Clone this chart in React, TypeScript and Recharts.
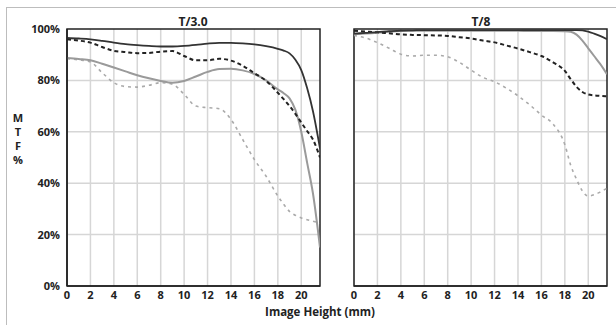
import { LineChart, Line, XAxis, YAxis, CartesianGrid, ReferenceArea } from 'recharts';

const xs = [0, 1, 2, 3, 4, 5, 6, 7, 8, 9, 10, 11, 12, 13, 14, 15, 16, 17, 18, 18.5, 19, 19.5, 20, 20.5, 21, 21.6];
const xTicks = [0, 2, 4, 6, 8, 10, 12, 14, 16, 18, 20];
const yTicks = [0, 20, 40, 60, 80, 100];

// T/3.0
const t3DarkSolid = [96.5, 96.3, 96, 95.4, 94.7, 94.1, 93.7, 93.4, 93.2, 93.2, 93.4, 93.8, 94.3, 94.6, 94.6, 94.4, 94, 93.3, 92.3, 91.6, 90.5, 88, 84, 77, 68, 53.5];
const t3DarkDash = [96, 95.5, 94.7, 93, 91.5, 91, 90.6, 90.7, 91.2, 91.4, 89.5, 87.8, 87.8, 88.4, 87.7, 85.7, 82.8, 79.8, 75.2, 72.7, 70, 67, 63.6, 60.3, 57, 50];
const t3GraySolid = [88.7, 88.3, 87.8, 86.5, 85, 83.5, 82, 80.8, 79.8, 79.1, 79.8, 81.5, 83.3, 84.4, 84.5, 83.9, 82.5, 80, 76.5, 75, 73, 68.5, 60, 48, 36, 15];
const t3GrayDash = [88.5, 88, 87.2, 83, 79.1, 77.6, 77.4, 78.1, 79.1, 78.5, 74.6, 70, 69.4, 69, 64.8, 57, 49.2, 42.7, 35, 31.8, 29, 27.5, 26.5, 25.8, 25.2, 24.5];

// T/8
const t8DarkSolid = [98.2, 98.5, 98.8, 99.2, 99.4, 99.5, 99.6, 99.6, 99.6, 99.6, 99.6, 99.6, 99.6, 99.6, 99.6, 99.6, 99.6, 99.6, 99.6, 99.6, 99.6, 99.5, 99, 98.2, 97.3, 96];
const t8DarkDash = [99.3, 99, 98.7, 98.3, 97.9, 97.7, 97.6, 97.5, 97.3, 96.8, 96.3, 95.5, 94.8, 93.6, 92.4, 91, 89.5, 87, 83.7, 80.5, 77.5, 75.5, 74.5, 74.2, 74, 73.8];
const t8GraySolid = [98, 98.2, 98.5, 98.9, 99.2, 99.3, 99.3, 99.3, 99.3, 99.3, 99.3, 99.3, 99.3, 99.3, 99.3, 99.2, 99.2, 99.2, 99.1, 98.9, 97.8, 95.5, 92.5, 89.5, 86.5, 82.4];
const t8GrayDash = [97.5, 96.5, 94.7, 92.5, 90.2, 89.5, 89.8, 89.8, 89.2, 87, 84, 81.2, 79.5, 77, 74, 70.5, 66.5, 63, 55, 47, 41.5, 37, 35, 35.5, 36.5, 38];

const rows = (a: number[], b: number[], c: number[], d: number[]) =>
  xs.map((x, i) => ({ x, ds: a[i], dd: b[i], gs: c[i], gd: d[i] }));

const t3Data = rows(t3DarkSolid, t3DarkDash, t3GraySolid, t3GrayDash);
const t8Data = rows(t8DarkSolid, t8DarkDash, t8GraySolid, t8GrayDash);

const FONT = '"Open Sans", sans-serif';
const tickStyle = { fontSize: 11, fontWeight: 700, fill: '#222', fontFamily: FONT };

function Panel({ data, showY, left, width, margin }: { data: any[]; showY: boolean; left: number; width: number; margin: any }) {
  return (
    <div style={{ position: 'absolute', left, top: 0 }}>
      <LineChart width={width} height={325} data={data} margin={margin}>
        <CartesianGrid stroke="#d6d6d6" strokeWidth={1.5} horizontalValues={[20, 40, 60, 80]} verticalValues={xTicks} />
        <XAxis
          dataKey="x"
          type="number"
          domain={[0, 21.6]}
          ticks={xTicks}
          allowDataOverflow
          height={39}
          tickLine={false}
          tickSize={5}
          tickMargin={0}
          axisLine={{ stroke: '#222', strokeWidth: 1.5 }}
          tick={tickStyle}
          interval={0}
        />
        <YAxis
          type="number"
          domain={[0, 100]}
          ticks={yTicks}
          hide={!showY}
          width={60}
          tickLine={false}
          tickSize={5}
          tickMargin={2}
          axisLine={{ stroke: '#222', strokeWidth: 1.5 }}
          tickFormatter={(v) => `${v}%`}
          tick={tickStyle}
          interval={0}
        />
        <ReferenceArea x1={0} x2={21.6} y1={0} y2={100} fill="none" stroke="#222" strokeWidth={1.5} fillOpacity={0} />
        <Line type="monotone" dataKey="gd" stroke="#aaaaaa" strokeWidth={1.6} strokeDasharray="3 4" dot={false} isAnimationActive={false} />
        <Line type="monotone" dataKey="gs" stroke="#9a9a9a" strokeWidth={2} dot={false} isAnimationActive={false} />
        <Line type="monotone" dataKey="dd" stroke="#222" strokeWidth={2} strokeDasharray="4 3" dot={false} isAnimationActive={false} />
        <Line type="monotone" dataKey="ds" stroke="#333" strokeWidth={1.8} dot={false} isAnimationActive={false} />
      </LineChart>
    </div>
  );
}

const textBold: React.CSSProperties = { position: 'absolute', fontFamily: FONT, fontWeight: 700, color: '#222', whiteSpace: 'nowrap' };

export default function App() {
  return (
    <div style={{ position: 'absolute', left: 0, top: 0, width: 616, height: 325, background: '#fff', overflow: 'hidden' }}>
      <div style={{ position: 'absolute', left: 6, top: 7, width: 640, height: 340, borderTop: '1.5px solid #bdbdbd', borderLeft: '1.5px solid #bdbdbd' }} />
      <Panel data={t3Data} showY left={0} width={330} margin={{ top: 29, right: 10, bottom: 0, left: 7 }} />
      <Panel data={t8Data} showY={false} left={330} width={286} margin={{ top: 29, right: 9, bottom: 0, left: 24 }} />
      <div style={{ ...textBold, fontSize: 12, left: 143, width: 100, textAlign: 'center', top: 13 }}>T/3.0</div>
      <div style={{ ...textBold, fontSize: 12, left: 431, width: 100, textAlign: 'center', top: 13 }}>T/8</div>
      <div style={{ ...textBold, fontSize: 11, left: 8, width: 20, textAlign: 'center', top: 111, lineHeight: '14px' }}>
        M<br />T<br />F<br />%
      </div>
      <div style={{ ...textBold, fontSize: 11.5, left: 220, width: 200, textAlign: 'center', top: 304 }}>Image Height (mm)</div>
    </div>
  );
}
